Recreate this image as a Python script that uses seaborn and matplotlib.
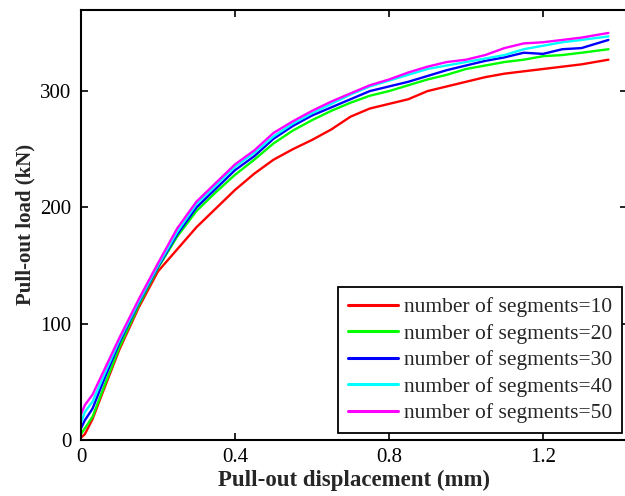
import numpy as np
import pandas as pd
import matplotlib
matplotlib.use("Agg")
import matplotlib.pyplot as plt
import seaborn as sns

displacement = [0, 0.01, 0.03, 0.06, 0.1, 0.15, 0.2, 0.25, 0.3, 0.35, 0.4, 0.45, 0.5, 0.55,
                0.6, 0.65, 0.7, 0.75, 0.8, 0.85, 0.9, 0.95, 1.0, 1.05, 1.1, 1.15, 1.2, 1.25,
                1.3, 1.37]
load_10 = [2, 5, 18, 44, 78, 114, 145, 164, 183, 199, 215, 229, 241, 250, 258, 267, 278, 285,
           289, 293, 300, 304, 308, 312, 315, 317, 319, 321, 323, 327]
load_20 = [5, 10, 20, 46, 80, 116, 148, 175, 197, 213, 228, 241, 255, 266, 275, 283, 290, 296,
           300, 305, 310, 314, 319, 322, 325, 327, 330, 331, 333, 336]
load_30 = [10, 17, 27, 52, 84, 118, 149, 177, 200, 216, 232, 244, 259, 270, 279, 286, 293, 300,
           304, 308, 313, 318, 322, 326, 329, 333, 332, 336, 337, 344]
load_40 = [15, 24, 33, 56, 86, 119, 150, 179, 203, 219, 235, 247, 261, 272, 281, 289, 297, 304,
           309, 314, 319, 322, 325, 328, 331, 336, 339, 342, 344, 347]
load_50 = [22, 30, 39, 60, 88, 121, 152, 182, 205, 221, 237, 249, 264, 274, 283, 291, 298, 305,
           310, 316, 321, 325, 327, 331, 337, 341, 342, 344, 346, 350]
labels = ["number of segments=10", "number of segments=20", "number of segments=30",
          "number of segments=40", "number of segments=50"]
colors = ["#ff0000", "#00ff00", "#0000ff", "#00ffff", "#ff00ff"]
xticks = [0, 0.4, 0.8, 1.2]
xticklabels = ["0", "0.4", "0.8", "1.2"]
yticks = [0, 100, 200, 300]

series = [load_10, load_20, load_30, load_40, load_50]
frames = []
for lab, vals in zip(labels, series):
    frames.append(pd.DataFrame({"x": displacement, "y": vals, "series": lab}))
df = pd.concat(frames, ignore_index=True)

sns.set_style("ticks")
plt.rcParams["font.family"] = ["Liberation Serif", "DejaVu Serif"]

W, H = 625, 496
left_px, right_px, top_px, bottom_px = 81, 627, 9.5, 440
fig = plt.figure(figsize=(W / 100, H / 100), dpi=100)
ax = fig.add_axes([left_px / W, 1 - bottom_px / H, (right_px - left_px) / W,
                   (bottom_px - top_px) / H])

sns.lineplot(data=df, x="x", y="y", hue="series", palette=dict(zip(labels, colors)),
             hue_order=labels, linewidth=1.7, ax=ax, sort=False, estimator=None)

ax.set_xlim(0, (right_px - left_px) / 385)
ax.set_ylim(0, (bottom_px - top_px) / 1.163)
ax.set_xticks(xticks)
ax.set_xticklabels(xticklabels)
ax.set_yticks(yticks)
ax.tick_params(direction="in", top=True, right=True, length=5, width=1.2,
               labelsize=15, colors="black")
ax.tick_params(axis="y", pad=7)
ax.tick_params(axis="x", pad=6)
for s in ax.spines.values():
    s.set_visible(True)
    s.set_linewidth(1.5)
    s.set_color("black")

ax.set_xlabel("Pull-out displacement (mm)", fontsize=16.5, fontweight="bold", labelpad=2)
ax.set_ylabel("Pull-out load (kN)", fontsize=15, fontweight="bold", labelpad=3)

bx = (622 - left_px) / (right_px - left_px)
by = (bottom_px - 433) / (bottom_px - top_px)
leg = ax.legend(loc="lower right", bbox_to_anchor=(bx, by), fontsize=15.5, frameon=True,
                fancybox=False, edgecolor="black", handlelength=2.3, handletextpad=0.3,
                labelspacing=0.3, borderpad=0.45, borderaxespad=0, framealpha=1)
leg.get_frame().set_linewidth(1.3)
for line in leg.get_lines():
    line.set_linewidth(2.2)

fig.savefig("out.png", dpi=100)
